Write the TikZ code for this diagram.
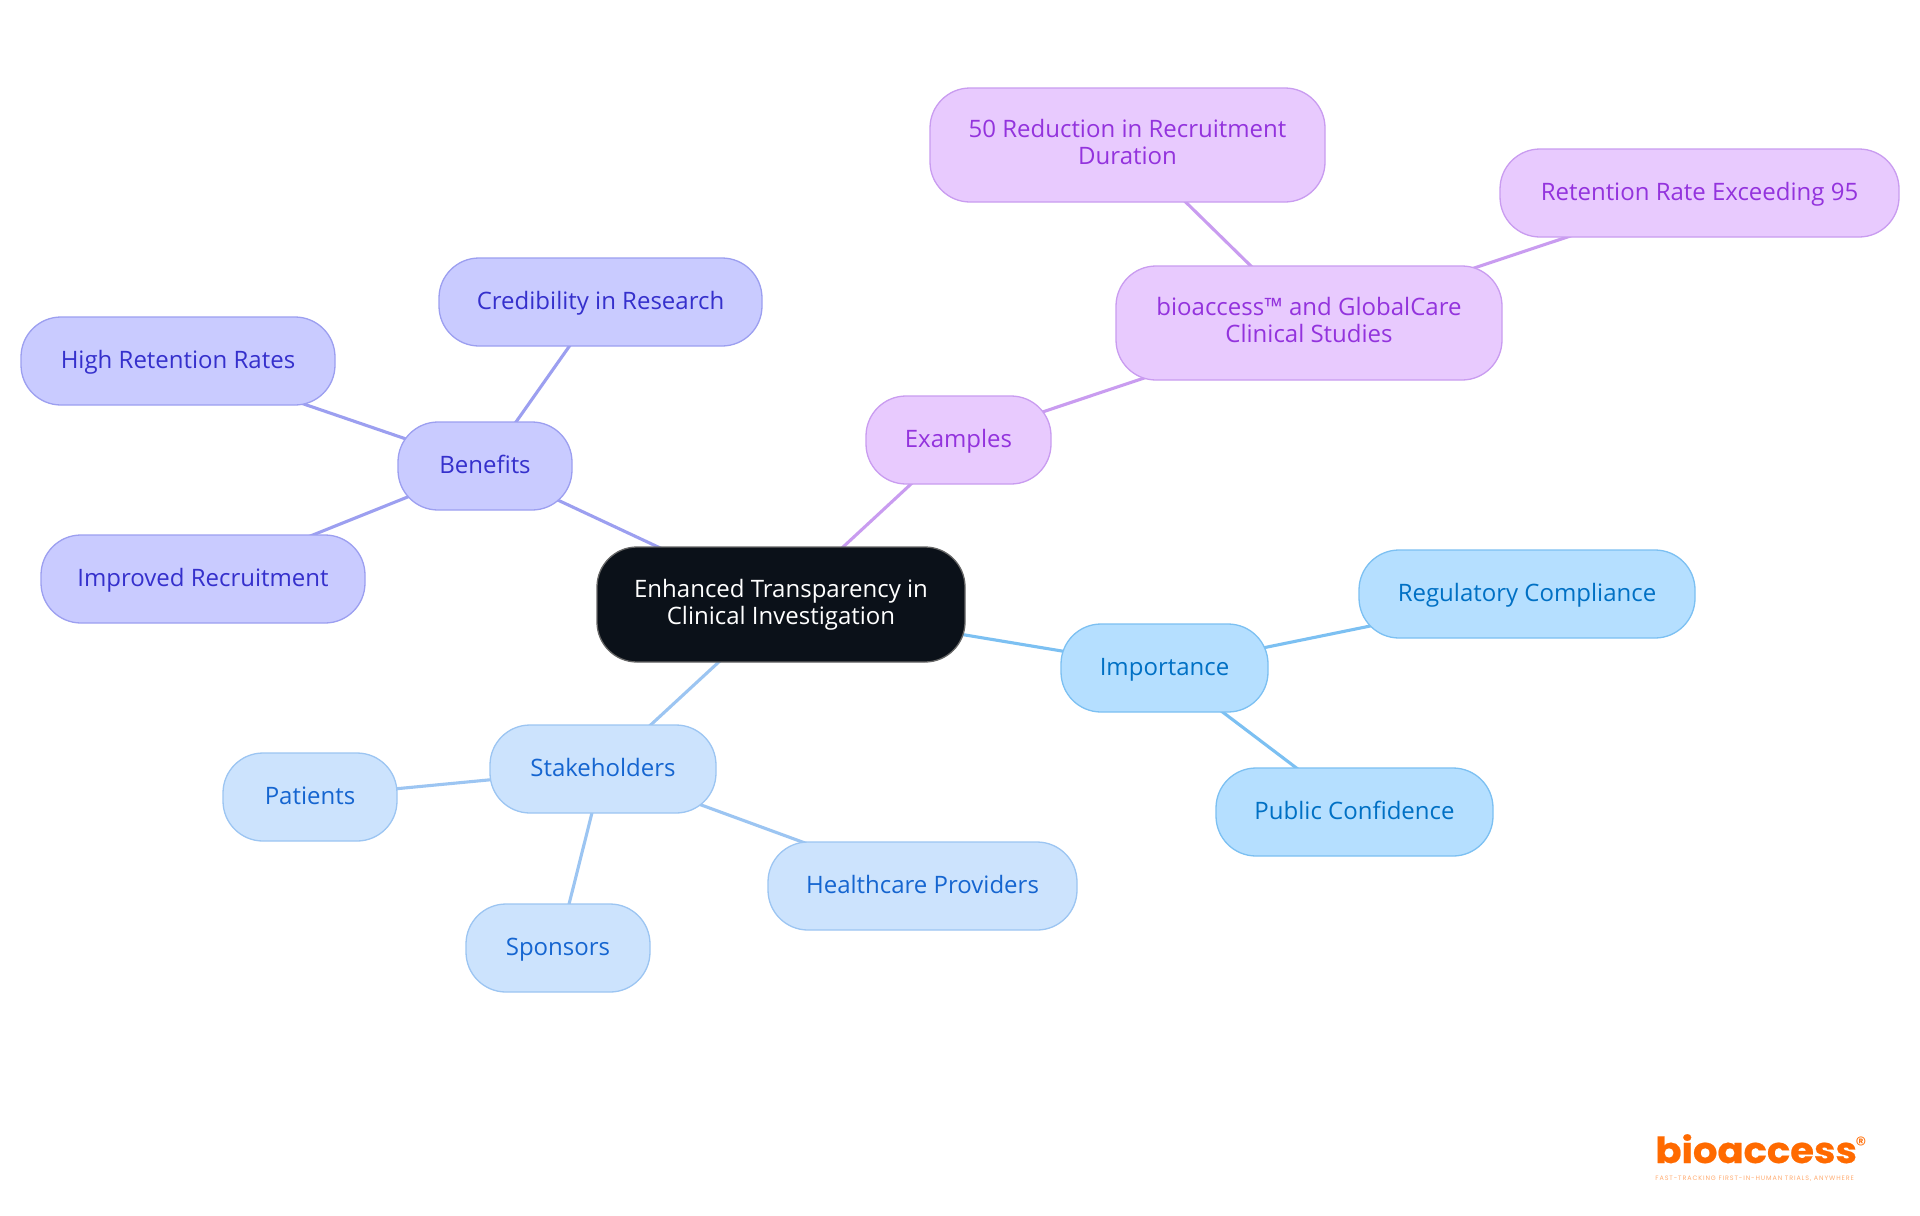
\documentclass[tikz,border=0pt]{standalone}
\usepackage{fontspec}
\setmainfont{Open Sans}
\newfontfamily\logof[FakeStretch=1.07,FakeBold=0.6]{Poppins Bold}
\newfontfamily\regf{Poppins}
\newfontfamily\tagf[LetterSpace=14]{Poppins}
\usetikzlibrary{backgrounds}
\pgfdeclarelayer{edges}
\pgfsetlayers{edges,main}
\definecolor{rootfill}{HTML}{0B1119}
\definecolor{bf}{HTML}{C9CBFF}\definecolor{bl}{HTML}{9C9FF0}\definecolor{bt}{HTML}{3530CC}
\definecolor{ef}{HTML}{E8CAFE}\definecolor{el}{HTML}{C99CF0}\definecolor{et}{HTML}{9333DD}
\definecolor{if}{HTML}{B5DFFF}\definecolor{il}{HTML}{7CC0F2}\definecolor{it}{HTML}{0070C4}
\definecolor{sf}{HTML}{CCE3FD}\definecolor{sl}{HTML}{9CC5F2}\definecolor{st}{HTML}{1565D0}
\definecolor{logoc}{HTML}{FF6A00}
\tikzset{
 x=0.5pt,y=-0.5pt,
 mbox/.style={rectangle,rounded corners=20pt,inner sep=0pt,line width=0.65pt,align=center,font=\fontsize{12pt}{13.35pt}\selectfont},
 oneline/.style={text height=7.2pt,text depth=0pt},
 twoline/.style={text height=19.5pt,text depth=0pt},
 bstyle/.style={mbox,fill=bf,draw=bl,text=bt},
 estyle/.style={mbox,fill=ef,draw=el,text=et},
 istyle/.style={mbox,fill=if,draw=il,text=it},
 sstyle/.style={mbox,fill=sf,draw=sl,text=st},
 rootstyle/.style={mbox,fill=rootfill,draw=black!60,text=white},
 be/.style={draw=bl,line width=1.55pt},
 ee/.style={draw=el,line width=1.55pt},
 ie/.style={draw=il,line width=1.55pt},
 se/.style={draw=sl,line width=1.55pt},
}
% name x1 y1 x2 y2 style text
\newcommand\bx[7]{\node[#6,minimum width={(#4-#2)*0.5pt},minimum height={(#5-#3)*0.5pt}] (#1) at ({(#2+#4)/2},{(#3+#5)/2}) {#7};}
\begin{document}
\begin{tikzpicture}
\begin{pgfonlayer}{edges}
\path[use as bounding box,fill=white] (0,0) rectangle (1920,1215);
\end{pgfonlayer}
\bx{root}{597}{547}{965}{662}{rootstyle,twoline}{Enhanced Transparency in\\Clinical Investigation}
\bx{ben}{398}{422}{572}{510}{bstyle,oneline}{Benefits}
\bx{hrr}{21}{317}{335}{405}{bstyle,oneline}{High Retention Rates}
\bx{cred}{439}{258}{762}{346}{bstyle,oneline}{Credibility in Research}
\bx{imp}{41}{535}{365}{623}{bstyle,oneline}{Improved Recruitment}
\bx{exa}{866}{396}{1051}{484}{estyle,oneline}{Examples}
\bx{bio}{1116}{266}{1502}{380}{estyle,twoline}{bioaccess™ and GlobalCare\\Clinical Studies}
\bx{red}{930}{88}{1325}{202}{estyle,twoline}{50 Reduction in Recruitment\\Duration}
\bx{ret}{1500}{149}{1899}{237}{estyle,oneline}{Retention Rate Exceeding 95}
\bx{impo}{1061}{624}{1268}{712}{istyle,oneline}{Importance}
\bx{reg}{1359}{550}{1695}{638}{istyle,oneline}{Regulatory Compliance}
\bx{pub}{1216}{768}{1493}{856}{istyle,oneline}{Public Confidence}
\bx{sta}{490}{725}{716}{813}{sstyle,oneline}{Stakeholders}
\bx{pat}{223}{753}{397}{841}{sstyle,oneline}{Patients}
\bx{spo}{466}{904}{650}{992}{sstyle,oneline}{Sponsors}
\bx{hea}{768}{842}{1077}{930}{sstyle,oneline}{Healthcare Providers}
\begin{pgfonlayer}{edges}
\draw[be] (root.center) -- (ben.center);
\draw[be] (ben.center) -- (hrr.center);
\draw[be] (ben.center) -- (cred.center);
\draw[be] (ben.center) -- (imp.center);
\draw[ee] (root.center) -- (exa.center);
\draw[ee] (exa.center) -- (bio.center);
\draw[ee] (bio.center) -- (red.center);
\draw[ee] (bio.center) -- (ret.center);
\draw[ie] (root.center) -- (impo.center);
\draw[ie] (impo.center) -- (reg.center);
\draw[ie] (impo.center) -- (pub.center);
\draw[se] (root.center) -- (sta.center);
\draw[se] (sta.center) -- (pat.center);
\draw[se] (sta.center) -- (spo.center);
\draw[se] (sta.center) -- (hea.center);
\end{pgfonlayer}
\node[anchor=base west,inner sep=0pt,text=logoc,font=\logof\fontsize{18pt}{18pt}\selectfont] (logo) at (1655,1163) {bioaccess};
\node[anchor=center,inner sep=0pt,text=logoc,font=\regf\fontsize{11pt}{11pt}\selectfont] (regmark) at (1861,1145) {®};
\node[anchor=base west,inner sep=0pt,text=logoc!55,font=\tagf\fontsize{3.2pt}{4pt}\selectfont] (tag) at (1655,1180) {FAST-TRACKING FIRST-IN-HUMAN TRIALS, ANYWHERE};
\end{tikzpicture}
\end{document}
